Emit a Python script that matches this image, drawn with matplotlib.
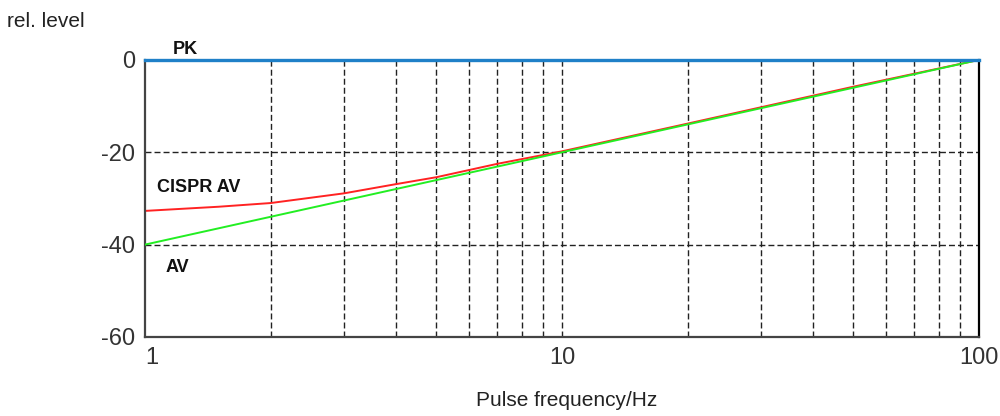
import numpy as np
import matplotlib.pyplot as plt
from matplotlib import font_manager

plt.rcParams['font.family'] = ['Liberation Sans', 'DejaVu Sans']

# pulse frequency in Hz
pk_freq = [1, 100]
pk_level = [0, 0]

av_freq = [1, 100]
av_level = [-40, 0]

cispr_freq = [1, 1.5, 2, 3, 4, 5, 7, 10, 20, 50, 100]
cispr_level = [-32.7, -31.8, -31.0, -28.9, -26.9, -25.4, -22.5, -19.8, -13.8, -5.8, 0]

x_ticks = [1, 10, 100]
x_tick_labels = ['1', '10', '100']
y_ticks = [-60, -40, -20, 0]
y_tick_labels = ['-60', '-40', '-20', '0']


def tick_font():
    names = {f.name for f in font_manager.fontManager.ttflist}
    if 'Liberation Sans Narrow' in names:
        return 'Liberation Sans Narrow', 19
    return 'Liberation Sans', 17


def main():
    fig = plt.figure(figsize=(10, 4.16), dpi=100)
    ax = fig.add_axes([0.145, 0.19, 0.834, 0.666])

    ax.set_xscale('log')
    ax.set_xlim(1, 100)
    ax.set_ylim(-60, 0)

    grid_style = dict(color='#222222', linewidth=1.0, linestyle=(0, (4.3, 2.2)), zorder=1)
    for dec in [1, 10]:
        for m in range(2, 10):
            ax.axvline(dec * m, **grid_style)
    ax.axvline(10, **grid_style)
    for y in [-20, -40]:
        ax.axhline(y, **grid_style)

    ax.plot(av_freq, av_level, color='#22ee22', linewidth=1.4, zorder=3)
    ax.plot(cispr_freq, cispr_level, color='#ff2222', linewidth=1.4, zorder=2)
    ax.plot(pk_freq, pk_level, color='#1f80c8', linewidth=2.4, zorder=4, clip_on=False)

    ax.text(1.165, 1.3, 'PK', fontsize=13, fontweight='bold', color='#111111')
    ax.text(1.07, -28.7, 'CISPR AV', fontsize=13, fontweight='bold', color='#111111')
    ax.text(1.12, -46.0, 'AV', fontsize=13, fontweight='bold', color='#111111')

    fam, size = tick_font()
    ax.set_xticks(x_ticks)
    ax.set_xticklabels(x_tick_labels, family=fam, fontsize=size, color='#333333')
    ax.xaxis.set_minor_locator(plt.NullLocator())
    ax.set_yticks(y_ticks)
    ax.set_yticklabels(y_tick_labels, family=fam, fontsize=size, color='#333333')
    ax.get_xticklabels()[0].set_horizontalalignment('left')
    ax.tick_params(axis='both', length=0)
    ax.tick_params(axis='x', pad=7)
    ax.tick_params(axis='y', pad=7)

    for side in ['left', 'bottom']:
        ax.spines[side].set_color('#444444')
        ax.spines[side].set_linewidth(1.6)
    ax.spines['right'].set_color('black')
    ax.spines['right'].set_linewidth(1.6)
    ax.spines['top'].set_visible(False)

    fig.text(0.007, 0.935, 'rel. level', fontsize=15, color='#222222')
    fig.text(0.567, 0.025, 'Pulse frequency/Hz', fontsize=15, color='#222222', ha='center')

    fig.savefig('out.png', dpi=100)


if __name__ == '__main__':
    main()
